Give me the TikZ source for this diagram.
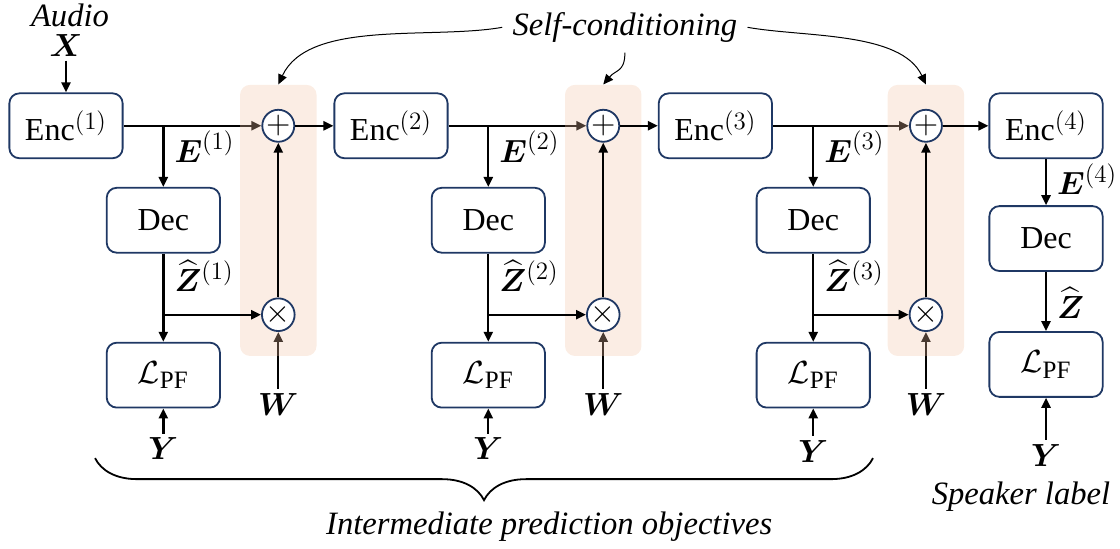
\RequirePackage{fix-cm}
\documentclass[tikz,border=0pt]{standalone}
\usepackage{amsmath, amssymb}
\usepackage{fontspec}
\setmainfont{Liberation Serif}
\usepackage{tikz}
\usetikzlibrary{arrows.meta, positioning, calc, fit, decorations.pathreplacing}
\DeclareMathSizes{16}{16}{12.5}{10}

\definecolor{boxnavy}{RGB}{31,56,100}
\definecolor{bandpeach}{RGB}{242,195,165}
\pgfdeclarelayer{front}
\pgfsetlayers{main,front}

\begin{document}
\begin{tikzpicture}[
  >={Triangle[length=5pt,width=4.5pt]},
  font=\fontsize{16}{19}\selectfont,
  blocknode/.style={draw=boxnavy, line width=0.9pt, rounded corners=5pt, fill=white, minimum width=1.99cm, minimum height=1.14cm, inner sep=2pt, align=center},
  opnode/.style={draw=boxnavy, line width=0.9pt, circle, fill=white, minimum size=0.55cm, inner sep=0pt},
  bandnode/.style={fill=bandpeach, fill opacity=0.3, rounded corners=5pt, inner xsep=10.5pt, inner ysep=12pt},
  flow/.style={->, line width=1.2pt, black},
  flow2/.style={->, line width=0.5pt, black},
  symlabel/.style={inner sep=2pt},
  textlabel/.style={font=\fontsize{16.3}{19}\selectfont\itshape, inner sep=2pt}
]
\useasboundingbox (0,0) rectangle (19.68,-9.63);

% nodes
\node[blocknode] (Enc1) at (1.16,-2.21)  {Enc$^{(1)}$};
\node[blocknode] (Enc2) at (6.87,-2.21)  {Enc$^{(2)}$};
\node[blocknode] (Enc3) at (12.57,-2.21) {Enc$^{(3)}$};
\node[blocknode] (Enc4) at (18.38,-2.21) {Enc$^{(4)}$};

\node[blocknode] (Dec1) at (2.87,-3.87)  {Dec};
\node[blocknode] (Dec2) at (8.58,-3.87)  {Dec};
\node[blocknode] (Dec3) at (14.29,-3.87) {Dec};
\node[blocknode] (Dec4) [below=0.81cm of Enc4] {Dec};

\node[blocknode] (Loss1) [below=1.55cm of Dec1] {$\mathcal{L}_{\mathrm{PF}}$};
\node[blocknode] (Loss2) [below=1.55cm of Dec2] {$\mathcal{L}_{\mathrm{PF}}$};
\node[blocknode] (Loss3) [below=1.55cm of Dec3] {$\mathcal{L}_{\mathrm{PF}}$};
\node[blocknode] (Loss4) [below=1.04cm of Dec4] {$\mathcal{L}_{\mathrm{PF}}$};

% sum / product
\begin{pgfonlayer}{front}
\node[opnode] (Add1) at (4.89,-2.21)  {$+$};
\node[opnode] (Add2) at (10.60,-2.21) {$+$};
\node[opnode] (Add3) at (16.27,-2.21) {$+$};
\node[opnode] (Mul1) [below=2.72cm of Add1] {$\times$};
\node[opnode] (Mul2) [below=2.72cm of Add2] {$\times$};
\node[opnode] (Mul3) [below=2.72cm of Add3] {$\times$};
\end{pgfonlayer}

% inputs
\node[symlabel] (Xin) [above=0.56cm of Enc1] {$\boldsymbol{X}$};
\node[textlabel] (Audio) at (1.23,-0.27) {Audio};
\node[symlabel] (W1) [below=1.0cm of Mul1] {$\boldsymbol{W}$};
\node[symlabel] (W2) [below=1.0cm of Mul2] {$\boldsymbol{W}$};
\node[symlabel] (W3) [below=1.0cm of Mul3] {$\boldsymbol{W}$};
\node[symlabel] (Y1) [below=0.44cm of Loss1] {$\boldsymbol{Y}$};
\node[symlabel] (Y2) [below=0.44cm of Loss2] {$\boldsymbol{Y}$};
\node[symlabel] (Y3) [below=0.48cm of Loss3] {$\boldsymbol{Y}$};
\node[symlabel] (Y4) [below=0.74cm of Loss4] {$\boldsymbol{Y}$};

% flows
\draw[flow] (Xin) -- (Enc1);
\draw[flow] (Enc1) -- (Add1);
\draw[flow] (Enc2) -- (Add2);
\draw[flow] (Enc3) -- (Add3);

\draw[flow] (Enc1.east -| Dec1) -- (Dec1) node[symlabel, pos=0.34, right=3pt] {$\boldsymbol{E}^{(1)}$};
\draw[flow] (Enc2.east -| Dec2) -- (Dec2) node[symlabel, pos=0.34, right=3pt] {$\boldsymbol{E}^{(2)}$};
\draw[flow] (Enc3.east -| Dec3) -- (Dec3) node[symlabel, pos=0.34, right=3pt] {$\boldsymbol{E}^{(3)}$};
\draw[flow] (Enc4) -- (Dec4) node[symlabel, pos=0.43, right=3pt] {$\boldsymbol{E}^{(4)}$};

\draw[flow] (Dec1) -- (Loss1) node[symlabel, pos=0.25, right=3pt] {$\widehat{\boldsymbol{Z}}{}^{(1)}$};
\draw[flow] (Dec2) -- (Loss2) node[symlabel, pos=0.25, right=3pt] {$\widehat{\boldsymbol{Z}}{}^{(2)}$};
\draw[flow] (Dec3) -- (Loss3) node[symlabel, pos=0.25, right=3pt] {$\widehat{\boldsymbol{Z}}{}^{(3)}$};
\draw[flow] (Dec4) -- (Loss4) node[symlabel, pos=0.53, right=3pt] {$\widehat{\boldsymbol{Z}}$};

\draw[flow] (W1) -- (Mul1);
\draw[flow] (W2) -- (Mul2);
\draw[flow] (W3) -- (Mul3);
\draw[flow] (Y1) -- (Loss1);
\draw[flow] (Y2) -- (Loss2);
\draw[flow] (Y3) -- (Loss3);
\draw[flow] (Y4) -- (Loss4);

\begin{pgfonlayer}{front}
\draw[flow] (Dec1 |- Mul1) -- (Mul1);
\draw[flow] (Dec2 |- Mul2) -- (Mul2);
\draw[flow] (Dec3 |- Mul3) -- (Mul3);
\draw[flow] (Mul1) -- (Add1);
\draw[flow] (Mul2) -- (Add2);
\draw[flow] (Mul3) -- (Add3);
\draw[flow] (Add1) -- (Enc2);
\draw[flow] (Add2) -- (Enc3);
\draw[flow] (Add3) -- (Enc4);
\end{pgfonlayer}

% shaded self-conditioning blocks
\node[bandnode, fit=(Add1)(Mul1)] (Band1) {};
\node[bandnode, fit=(Add2)(Mul2)] (Band2) {};
\node[bandnode, fit=(Add3)(Mul3)] (Band3) {};

% self-conditioning pointers
\node[textlabel, inner sep=5pt] (SelfCond) at (10.98,-0.48) {Self-conditioning};
\draw[flow2] (SelfCond.west) to[out=190, in=65, looseness=0.8] (Band1.north);
\draw[flow2] (SelfCond.south) to[out=-90, in=50, looseness=1.3] (Band2.north);
\draw[flow2] (SelfCond.east) to[out=-10, in=115, looseness=0.8] (Band3.north);

% objectives brace
\coordinate (BraceL) at (1.67,-8.05);
\coordinate (BraceR) at (15.34,-8.05);
\draw[decorate, decoration={brace, mirror, amplitude=21pt}, line width=0.9pt] (BraceL) -- (BraceR);
\node[textlabel] (Objectives) at (9.65,-9.25) {Intermediate prediction objectives};
\node[textlabel] (Speaker) at (17.94,-8.73) {Speaker label};

\end{tikzpicture}
\end{document}
